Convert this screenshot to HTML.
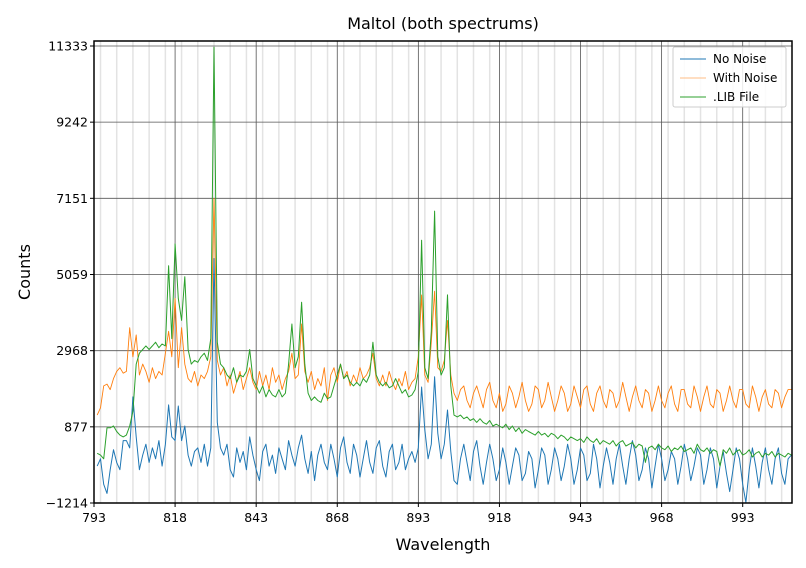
<!DOCTYPE html>
<html><head><meta charset="utf-8"><style>
html,body{margin:0;padding:0;background:#fff;}
svg{display:block;font-family:"DejaVu Sans","Liberation Sans",sans-serif;}
</style></head><body>
<svg id="chart" width="806" height="568" viewBox="0 0 806 568" xmlns="http://www.w3.org/2000/svg">
<rect x="0" y="0" width="806" height="568" fill="#fff"/>
<text x="443" y="29" font-size="16" text-anchor="middle">Maltol (both spectrums)</text>
<text x="443" y="550" font-size="16" text-anchor="middle">Wavelength</text>
<text x="30" y="272" font-size="16" text-anchor="middle" transform="rotate(-90 30 272)">Counts</text>
<g id="grid"></g>
<g id="series"></g>
<g id="axes"></g>
<g id="legend">
<rect x="673" y="47" width="113" height="60" fill="#fff" fill-opacity="0.85" stroke="#ccc" rx="2"/>
<line x1="680" y1="59" x2="706" y2="59" stroke="#1f77b4" stroke-width="1"/>
<text x="713" y="63" font-size="12">No Noise</text>
<line x1="680" y1="78" x2="706" y2="78" stroke="#ff7f0e" stroke-width="0.6"/>
<text x="713" y="82" font-size="12">With Noise</text>
<line x1="680" y1="97" x2="706" y2="97" stroke="#2ca02c" stroke-width="1"/>
<text x="713" y="101" font-size="12">.LIB File</text>
</g>
</svg>
<script>
const xStart = 794;
const xTicks = [793, 818, 843, 868, 893, 918, 943, 968, 993];
const yTicks = [-1214, 877, 2968, 5059, 7151, 9242, 11333];
const noNoise = [-200,0,-700,-950,-300,250,-100,-300,500,500,300,1700,600,-300,100,400,-100,300,0,500,-200,400,1480,600,500,1450,500,900,100,-200,200,300,-100,400,-200,300,5500,1000,300,100,400,-300,-500,300,-100,200,-300,600,100,-300,-600,200,400,-200,100,-400,300,0,-300,500,100,-200,300,650,0,-400,200,-600,100,400,-100,-300,400,0,-500,300,600,-100,-400,400,100,-500,0,500,-100,-400,300,500,-200,-500,200,400,-300,-100,400,-300,0,200,-100,300,1970,800,0,400,2250,700,0,400,1340,200,-600,-700,0,400,-100,-600,200,500,-200,-700,-100,400,0,-600,-300,300,-100,-700,-200,300,100,-600,-400,200,0,-800,-300,300,100,-700,-300,300,0,-600,-200,400,0,-700,-300,300,100,-600,-400,400,0,-800,-200,300,-100,-700,0,400,-200,-700,0,500,100,-600,-300,300,0,-800,-200,400,0,-600,-300,200,0,-700,-200,400,0,-600,-200,300,100,-700,-300,300,0,-800,-200,200,-400,-900,-300,300,0,-700,-1200,-300,300,-200,-800,-100,300,-300,-700,0,300,-400,-700,0,100];
const withNoise = [1200,1400,2000,2050,1900,2200,2400,2500,2350,2400,3600,2800,3400,2300,2600,2400,2100,2500,2200,2400,2300,2900,3500,2800,4400,2500,3600,2600,2200,2100,2400,2000,2300,2200,2400,2800,7150,2700,2300,2500,2000,2300,1800,2100,2400,1900,2200,2500,2100,1900,2400,2000,2300,1900,2500,2100,2300,1900,2200,2400,2900,2200,2300,3700,2400,2100,2400,1900,2200,2000,2500,1600,2300,2500,2100,2600,2200,2400,2000,2300,2100,2500,2200,2300,2500,2900,2200,2000,2300,2000,2400,2100,1900,2200,2000,2400,1900,2100,2200,2800,4500,2300,2100,3200,4600,2500,2400,2700,3800,2300,1800,1600,1900,2000,1600,1400,1800,2000,1700,1400,1900,2100,1600,1400,1800,1300,1500,2000,1800,1400,1700,2100,1600,1300,1500,2000,1900,1400,1600,2100,1700,1300,1600,2000,1800,1300,1500,2000,1700,1400,1900,2000,1500,1300,1800,2000,1600,1400,1900,1800,1400,1600,2100,1700,1300,1700,2000,1600,1400,1900,1800,1300,1600,2000,1600,1400,1800,2000,1500,1300,1900,1900,1500,1400,2000,1700,1300,1700,2000,1500,1400,1900,1800,1300,1600,2000,1600,1400,1900,1900,1500,1400,2000,1700,1300,1700,1900,1500,1400,1900,1800,1400,1700,1900,1900];
const libFile = [150,100,0,850,850,900,750,650,600,650,900,1300,2600,2900,3000,3100,3000,3100,3200,3050,3150,3100,5300,3300,5900,4400,3800,5000,3000,2600,2700,2650,2800,2900,2700,3300,11300,3200,2600,2500,2300,2200,2500,2100,2300,2250,2400,3000,2200,2000,1800,2000,1700,1900,1750,1700,1900,1700,1800,2600,3700,2500,2800,4300,2600,1800,1600,1700,1600,1550,1800,1650,1700,2000,2300,2600,2200,2300,2100,2000,2100,2000,2200,2100,2300,3200,2300,2100,2000,2100,1950,2000,2200,2000,1800,1900,1700,1750,1900,2400,6000,2500,2200,3500,6800,2800,2300,2500,4500,2000,1200,1150,1200,1100,1150,1050,1100,1000,1100,1000,950,1050,900,950,900,850,950,800,900,750,850,700,800,750,700,650,750,650,700,600,700,650,550,650,600,500,600,550,500,550,450,600,500,450,550,400,500,450,400,500,350,450,500,350,400,450,300,400,350,-100,300,350,250,400,300,250,350,200,300,250,350,200,250,300,150,400,250,200,300,150,250,200,-200,250,150,300,100,200,250,100,150,250,50,150,200,50,150,100,200,50,150,100,50,150,100];

const L=94,R=792,T=41,B=503;
const xMin=793,xMax=1008.2,yMin=-1214,yMax=11470;
const sx=v=>L+(v-xMin)/(xMax-xMin)*(R-L);
const sy=v=>B-(v-yMin)/(yMax-yMin)*(B-T);
const NS="http://www.w3.org/2000/svg";
function mk(tag,attrs,parent){const e=document.createElementNS(NS,tag);for(const k in attrs)e.setAttribute(k,attrs[k]);parent.appendChild(e);return e;}
const grid=document.getElementById('grid'),axes=document.getElementById('axes'),ser=document.getElementById('series');
for(let m=795;m<xMax;m+=5){
  const l=mk('line',{x1:sx(m),x2:sx(m),y1:T,y2:B,stroke:'#e3e3e3','stroke-width':1.5},grid);
  
  
}
xTicks.forEach(t=>{
  const l=mk('line',{x1:sx(t),x2:sx(t),y1:T,y2:B,stroke:'#555','stroke-width':0.8},grid);
  
  
  const k=mk('line',{x1:sx(t),x2:sx(t),y1:B,y2:B+4,stroke:'#000','stroke-width':1},axes);
  
  
  const tx=mk('text',{x:sx(t),y:B+19,'font-size':12.5,'text-anchor':'middle'},axes);
  tx.textContent=t;
  
  
});
yTicks.forEach(t=>{
  const l=mk('line',{x1:L,x2:R,y1:sy(t),y2:sy(t),stroke:'#555','stroke-width':0.8},grid);
  
  
  const k=mk('line',{x1:L-4,x2:L,y1:sy(t),y2:sy(t),stroke:'#000','stroke-width':1},axes);
  
  
  const tx=mk('text',{x:L-6,y:sy(t)+4.5,'font-size':12.5,'text-anchor':'end'},axes);
  tx.textContent=(t<0?'\u2212'+Math.abs(t):t);
  
  
});
const fr=mk('rect',{x:L,y:T,width:R-L,height:B-T,fill:'none',stroke:'#000','stroke-width':1.5},axes);


function line(arr,color,w,name){
  const d=arr.map((v,i)=>(i?'L':'M')+sx(xStart+i).toFixed(1)+' '+sy(v).toFixed(1)).join(' ');
  const p=mk('path',{d:d,fill:'none',stroke:color,'stroke-width':w,'stroke-linejoin':'round'},ser);
  
  
}
line(noNoise,'#1f77b4',1,'series-no-noise');
line(withNoise,'#ff7f0e',0.9,'series-with-noise');
line(libFile,'#2ca02c',1,'series-lib-file');
</script>
</body></html>
